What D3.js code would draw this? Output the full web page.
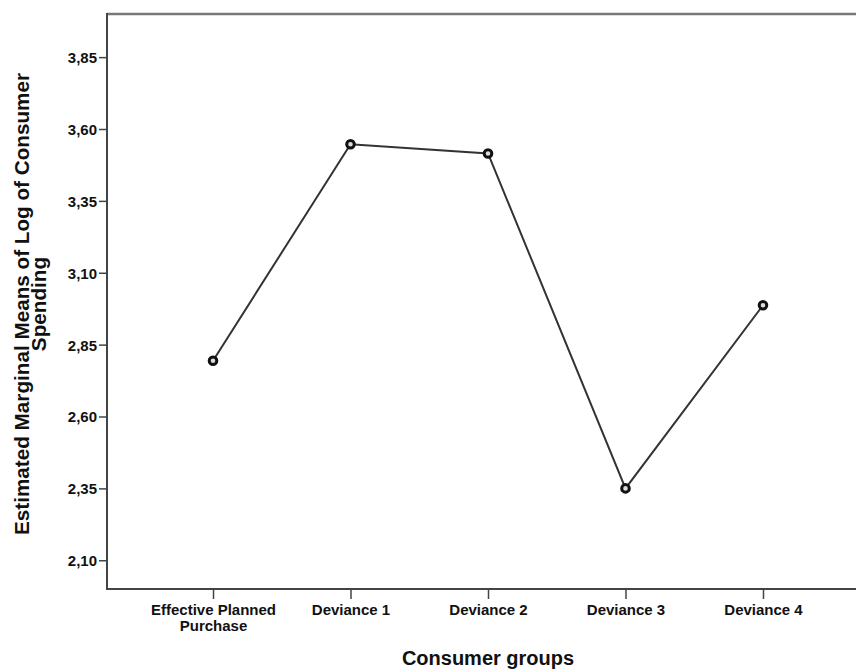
<!DOCTYPE html>
<html>
<head>
<meta charset="utf-8">
<script src="https://cdn.jsdelivr.net/npm/d3@7"></script>
<style>
  html, body { margin: 0; padding: 0; background: #fff; }
  svg { display: block; font-family: "Liberation Sans", Arial, sans-serif; }
</style>
</head>
<body>
<svg id="chart" width="856" height="669"></svg>
<script>
const categories = ["Effective Planned Purchase", "Deviance 1", "Deviance 2", "Deviance 3", "Deviance 4"];
const meanValues = [2.794, 3.547, 3.515, 2.350, 2.987];
const yTicks = [2.10, 2.35, 2.60, 2.85, 3.10, 3.35, 3.60, 3.85];
const xTitle = "Consumer groups";
const yTitleLines = ["Estimated Marginal Means of Log of Consumer", "Spending"];

(function () {
const svg = d3.select("#chart");
const W = 856, H = 669;
const mLeft = 107, mTop = 14, mBottom = 589, mRight = 869;

const x = d3.scalePoint().domain(categories).range([mLeft, mRight]).padding(0.771);
const y = d3.scaleLinear().domain([2.0, 4.0]).range([mBottom, mTop]);

const axisColor = "#444";

// frame top line
svg.append("line")
  .attr("x1", mLeft).attr("x2", W + 5).attr("y1", mTop).attr("y2", mTop)
  .attr("stroke", "#777").attr("stroke-width", 2.5);

// y axis
const yAxis = svg.append("g")
  .attr("transform", `translate(${mLeft},0)`)
  .call(d3.axisLeft(y).tickValues(yTicks).tickSize(8).tickSizeOuter(0)
    .tickFormat(d => d3.format(".2f")(d).replace(".", ",")));
yAxis.select(".domain").remove();
yAxis.append("line").attr("x1", 0).attr("x2", 0).attr("y1", mTop - 1).attr("y2", mBottom + 1)
  .attr("stroke", axisColor).attr("stroke-width", 2);
yAxis.selectAll(".tick line").attr("stroke", axisColor).attr("stroke-width", 1.5);
yAxis.selectAll(".tick text").attr("x", -10).attr("dy", "0.36em")
  .attr("fill", "#111").style("font-size", "15px").style("font-weight", "bold");

// x axis
const xAxis = svg.append("g")
  .attr("transform", `translate(0,${mBottom})`)
  .call(d3.axisBottom(x).tickSize(10).tickSizeOuter(0));
xAxis.select(".domain").remove();
xAxis.append("line").attr("x1", mLeft).attr("x2", W + 5).attr("y1", 0).attr("y2", 0)
  .attr("stroke", axisColor).attr("stroke-width", 2);
xAxis.selectAll(".tick line").attr("stroke", axisColor).attr("stroke-width", 1.5);
xAxis.selectAll(".tick text").each(function(d) {
  const t = d3.select(this);
  t.text(null).attr("y", 26).attr("dy", null)
    .attr("fill", "#111").style("font-size", "15px").style("font-weight", "bold");
  const parts = d === "Effective Planned Purchase" ? ["Effective Planned", "Purchase"] : [d];
  parts.forEach((p, i) => {
    t.append("tspan").attr("x", 0).attr("dy", i === 0 ? 0 : 16).text(p);
  });
});

// line
const line = d3.line().x((d, i) => x(categories[i])).y(d => y(d));
svg.append("path").datum(meanValues)
  .attr("d", line).attr("fill", "none")
  .attr("stroke", "#333").attr("stroke-width", 2);

// markers
svg.append("g").selectAll("circle").data(meanValues).join("circle")
  .attr("cx", (d, i) => x(categories[i])).attr("cy", d => y(d))
  .attr("r", 3.8).attr("fill", "#ddd").attr("stroke", "#111").attr("stroke-width", 3);

// x title
svg.append("text").attr("x", 488).attr("y", 665)
  .attr("text-anchor", "middle").attr("fill", "#111")
  .style("font-size", "20px").style("font-weight", "bold").text(xTitle);

// y title
const yt = svg.append("text")
  .attr("transform", `translate(29,304) rotate(-90)`)
  .attr("text-anchor", "middle").attr("fill", "#111")
  .style("font-size", "20.7px").style("font-weight", "bold");
yTitleLines.forEach((l, i) => {
  yt.append("tspan").attr("x", 0).attr("dy", i === 0 ? 0 : 17).text(l);
});
})();
</script>
</body>
</html>
